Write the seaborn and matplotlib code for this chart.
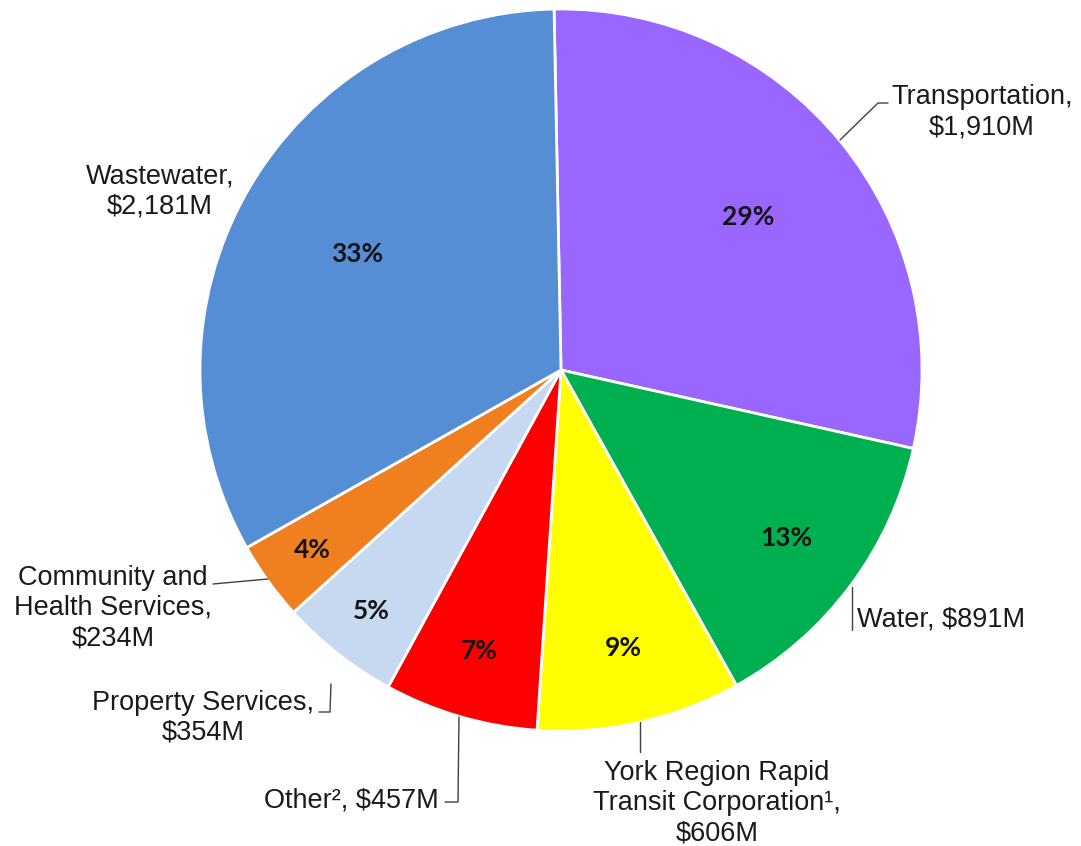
import matplotlib
matplotlib.use("Agg")
import matplotlib.pyplot as plt
import seaborn as sns
import numpy as np

# Capital budget by program area (in $ millions), clockwise from 12 o'clock
categories = ["Transportation", "Water", "York Region Rapid Transit Corporation¹",
              "Other²", "Property Services", "Community and Health Services", "Wastewater"]
values = [1910, 891, 606, 457, 354, 234, 2181]
label_texts = ["Transportation,\n$1,910M", "Water, $891M",
               "York Region Rapid\nTransit Corporation¹,\n$606M", "Other², $457M",
               "Property Services,\n$354M", "Community and\nHealth Services,\n$234M",
               "Wastewater,\n$2,181M"]
slice_colors = ["#9966FF", "#00B050", "#FFFF00", "#FF0000", "#C6D9F1", "#F07F1F", "#558ED5"]

sns.set_theme(style="white")
plt.rcParams["font.family"] = ["Liberation Sans", "DejaVu Sans"]
palette = sns.color_palette(slice_colors)

W, H = 1081, 846
fig = plt.figure(figsize=(W / 100, H / 100), dpi=100)
ax = fig.add_axes([0, 0, 1, 1])


def Y(y):
    return H - y


cx, cy, R = 561, 370, 361
wedges, _ = ax.pie(values, colors=palette, startangle=91.1, counterclock=False,
                   center=(cx, Y(cy)), radius=R, frame=True,
                   wedgeprops=dict(edgecolor="white", linewidth=2))
ax.set_xlim(0, W)
ax.set_ylim(0, H)
ax.set_aspect("equal")
ax.axis("off")

# percentage labels inside the slices
total = sum(values)
pct_radius = [0.67, 0.78, 0.79, 0.81, 0.85, 0.85, 0.65]
for w, v, rf in zip(wedges, values, pct_radius):
    mid = np.deg2rad((w.theta1 + w.theta2) / 2)
    ax.text(cx + rf * R * np.cos(mid), Y(cy) + rf * R * np.sin(mid),
            f"{round(v / total * 100)}%", ha="center", va="center",
            fontsize=19, fontweight="bold", color="#141414",
            family=["Lato", "DejaVu Sans"])

# category labels
label_pos = [(982, 112, "center"), (857, 620, "left"), (717, 803, "center"),
             (351, 800, "center"), (203, 718, "center"), (113, 608, "center"),
             (160, 191, "center")]
for txt, (x, y, ha) in zip(label_texts, label_pos):
    ax.text(x, Y(y), txt, ha=ha, va="center", fontsize=19.5, color="#1a1a1a",
            linespacing=1.2, multialignment="center")

# leader lines
leaders = [
    [(840, 140), (878, 103), (888, 103)],
    [(852, 587), (852, 630)],
    [(640, 722), (640, 752)],
    [(445, 802), (458, 802), (459, 717)],
    [(319, 712), (330, 712), (331, 684)],
    [(213, 584), (268, 579)],
]
for pts in leaders:
    xs = [p[0] for p in pts]
    ys = [Y(p[1]) for p in pts]
    ax.plot(xs, ys, color="#404040", linewidth=1)

fig.savefig("out.png", dpi=100)
